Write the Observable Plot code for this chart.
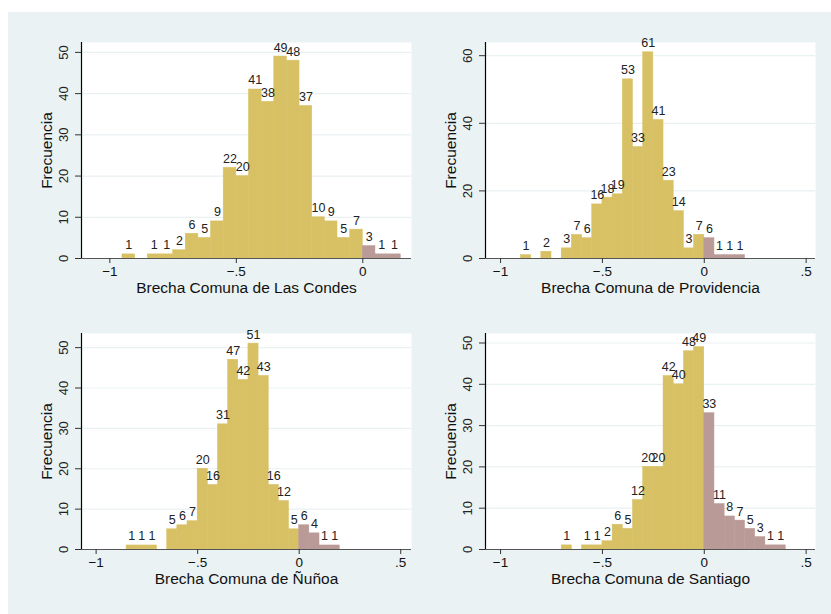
<!DOCTYPE html>
<html>
<head>
<meta charset="utf-8">
<script src="https://cdn.jsdelivr.net/npm/d3@7"></script>
<script src="https://cdn.jsdelivr.net/npm/@observablehq/plot@0.6"></script>
<style>
  html, body { margin: 0; padding: 0; background: #ffffff; }
  #bg { position: absolute; left: 8px; top: 12px; width: 823px; height: 602px; background: #eaf2f3; }
  .panel { position: absolute; }
</style>
</head>
<body>
<div id="bg"></div>
<div id="p0" class="panel" style="left:8px;top:12px"></div>
<div id="p1" class="panel" style="left:412px;top:12px"></div>
<div id="p2" class="panel" style="left:8px;top:303px"></div>
<div id="p3" class="panel" style="left:412px;top:303px"></div>
<script>
// ---- Data ----
const binWidth = 0.05;

const lasCondesStarts = [-0.95, -0.85, -0.80, -0.75, -0.70, -0.65, -0.60, -0.55, -0.50, -0.45, -0.40, -0.35, -0.30, -0.25, -0.20, -0.15, -0.10, -0.05, 0.00, 0.05, 0.10];
const lasCondesCounts = [1, 1, 1, 2, 6, 5, 9, 22, 20, 41, 38, 49, 48, 37, 10, 9, 5, 7, 3, 1, 1];

const providenciaStarts = [-0.90, -0.80, -0.70, -0.65, -0.60, -0.55, -0.50, -0.45, -0.40, -0.35, -0.30, -0.25, -0.20, -0.15, -0.10, -0.05, 0.00, 0.05, 0.10, 0.15];
const providenciaCounts = [1, 2, 3, 7, 6, 16, 18, 19, 53, 33, 61, 41, 23, 14, 3, 7, 6, 1, 1, 1];

const nunoaStarts = [-0.85, -0.80, -0.75, -0.65, -0.60, -0.55, -0.50, -0.45, -0.40, -0.35, -0.30, -0.25, -0.20, -0.15, -0.10, -0.05, 0.00, 0.05, 0.10, 0.15];
const nunoaCounts = [1, 1, 1, 5, 6, 7, 20, 16, 31, 47, 42, 51, 43, 16, 12, 5, 6, 4, 1, 1];

const santiagoStarts = [-0.70, -0.60, -0.55, -0.50, -0.45, -0.40, -0.35, -0.30, -0.25, -0.20, -0.15, -0.10, -0.05, 0.00, 0.05, 0.10, 0.15, 0.20, 0.25, 0.30, 0.35];
const santiagoCounts = [1, 1, 1, 2, 6, 5, 12, 20, 20, 42, 40, 48, 49, 33, 11, 8, 7, 5, 3, 1, 1];

const panelTitles = ["Brecha Comuna de Las Condes", "Brecha Comuna de Providencia", "Brecha Comuna de Ñuñoa", "Brecha Comuna de Santiago"];
const yLabel = "Frecuencia";

const xDomains = [[-1.112, 0.1925], [-1.074, 0.546], [-1.072, 0.553], [-1.074, 0.546]];
const yDomains = [[0, 52.4], [0, 63.9], [0, 53.5], [0, 52.3]];

const xTicksList = [[-1, -0.5, 0], [-1, -0.5, 0, 0.5], [-1, -0.5, 0, 0.5], [-1, -0.5, 0, 0.5]];
const yTicksList = [[0, 10, 20, 30, 40, 50], [0, 20, 40, 60], [0, 10, 20, 30, 40, 50], [0, 10, 20, 30, 40, 50]];

// ---- Styles ----
const gold = "#d8c064";
const rose = "#ba9a97";
const gridColor = "#e9f1f2";
const font = "'Liberation Sans', Arial, Helvetica, sans-serif";

const panels = [
  [lasCondesStarts, lasCondesCounts],
  [providenciaStarts, providenciaCounts],
  [nunoaStarts, nunoaCounts],
  [santiagoStarts, santiagoCounts]
];

function fmtTick(d) {
  if (d === 0) return "0";
  const s = String(Math.abs(d)).replace(/^0\./, ".");
  return (d < 0 ? "\u2212" : "") + s;
}

panels.forEach(([starts, counts], i) => {
  const bins = starts.map((s, j) => ({x1: s, x2: s + binWidth, count: counts[j], pos: s >= 0}));
  const chart = Plot.plot({
    width: 410,
    height: 290,
    marginLeft: 73,
    marginRight: 7,
    marginTop: 30,
    marginBottom: 44,
    style: {fontFamily: font, fontSize: "13px", background: "transparent", color: "#111", overflow: "visible"},
    x: {domain: xDomains[i]},
    y: {domain: yDomains[i]},
    marks: [
      Plot.frame({fill: "white", stroke: null}),
      Plot.gridY(yTicksList[i], {stroke: gridColor, strokeOpacity: 1, strokeWidth: 1.2}),
      Plot.rectY(bins, {
        x1: "x1", x2: "x2", y: "count",
        fill: d => d.pos ? rose : gold,
        stroke: d => d.pos ? rose : gold,
        strokeWidth: 0.5,
        inset: 0
      }),
      Plot.text(bins, {
        x: d => d.x1 + binWidth / 2, y: "count", text: d => String(d.count),
        lineAnchor: "bottom", dy: -5, fontSize: 12.5, fill: "#222"
      }),
      Plot.ruleY([0], {stroke: "#555", strokeWidth: 1.2}),
      Plot.ruleX([xDomains[i][0]], {stroke: "#000", strokeWidth: 1.2}),
      Plot.axisX({
        ticks: xTicksList[i], tickFormat: fmtTick, tickSize: 5, tickPadding: 3,
        label: null, fontSize: 13.5, stroke: "#333"
      }),
      Plot.axisY({
        ticks: yTicksList[i], tickFormat: () => "", tickSize: 6, tickPadding: 0,
        label: null, stroke: "#333"
      }),
      Plot.text(yTicksList[i], {
        y: d => d, text: d => String(d), frameAnchor: "left", dx: -18,
        rotate: -90, textAnchor: "middle", lineAnchor: "middle", fontSize: 13, fill: "#222"
      }),
      Plot.text([panelTitles[i]], {
        text: d => d, frameAnchor: "bottom", dy: 30, lineAnchor: "middle",
        fontSize: 15.5, fill: "#111"
      }),
      Plot.text([yLabel], {
        text: d => d, frameAnchor: "left", dx: -34, rotate: -90,
        textAnchor: "middle", lineAnchor: "middle", fontSize: 15.5, fill: "#111"
      })
    ]
  });
  document.getElementById("p" + i).appendChild(chart);
});
</script>
</body>
</html>
